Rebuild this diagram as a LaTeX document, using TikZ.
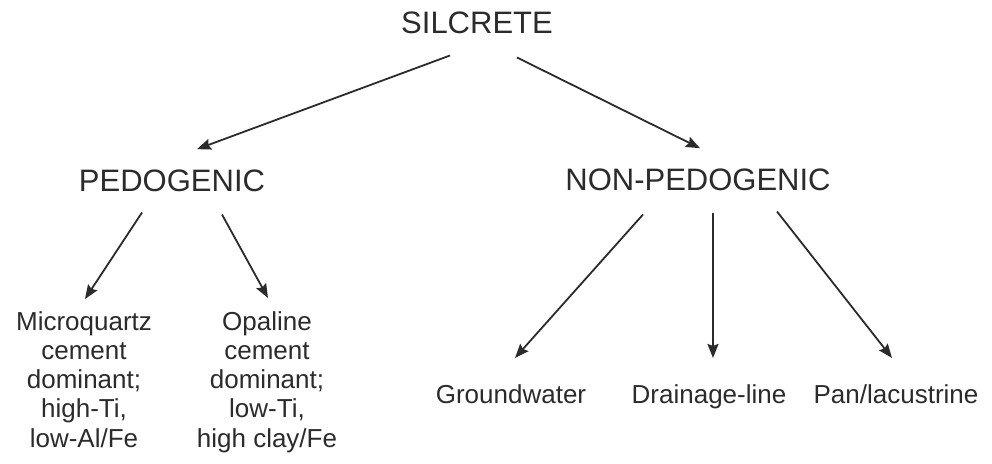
\documentclass[tikz,border=0pt]{standalone}
\usepackage{fontspec}
\setmainfont{Liberation Sans}
\usetikzlibrary{arrows.meta}
\definecolor{ink}{HTML}{2B2B2B}

\begin{document}
\begin{tikzpicture}[x=1pt,y=-1pt,
        head/.style={inner sep=0pt, anchor=base, text=ink, font=\fontsize{31}{36}\selectfont},
        leaf/.style={inner sep=0pt, text=ink, align=center, font=\fontsize{26}{29.3}\selectfont},
        arr/.style={draw=ink, line width=1.8pt, -{Stealth[length=14pt,width=11pt,inset=2pt]}}]
        \useasboundingbox (0,0) rectangle (992,463);
        % classes
        \node[head] (silcrete) at (477,33) {SILCRETE};
        \node[head] (pedo) at (172,191) {PEDOGENIC};
        \node[head] (nonpedo) at (698,190) {NON-PEDOGENIC};
        % pedogenic types
        \node[leaf, anchor=north] (micro) at (84,311) {Microquartz\\cement\\dominant;\\high-Ti,\\low-Al/Fe};
        \node[leaf, anchor=north] (opal) at (267,311) {Opaline\\cement\\dominant;\\low-Ti,\\high clay/Fe};
        % non-pedogenic types
        \node[leaf, anchor=base] (ground) at (511,403) {Groundwater};
        \node[leaf, anchor=base] (drain) at (709,403) {Drainage-line};
        \node[leaf, anchor=base] (lake) at (896,403) {Pan/lacustrine};
        % arrows
        \draw[arr] ([shift={(-27,22)}]silcrete.south) -- ([shift={(25,-20)}]pedo.north);
        \draw[arr] ([shift={(40,24)}]silcrete.south) -- ([shift={(2,-20)}]nonpedo.north);
        \draw[arr] ([shift={(-30,21)}]pedo.south) -- ([shift={(1,-12)}]micro.north);
        \draw[arr] ([shift={(50,23)}]pedo.south) -- ([shift={(1,-13)}]opal.north);
        \draw[arr] ([shift={(-55,24)}]nonpedo.south) -- ([shift={(4,-26)}]ground.north);
        \draw[arr] ([shift={(15,22)}]nonpedo.south) -- ([shift={(4,-26)}]drain.north);
        \draw[arr] ([shift={(79,21)}]nonpedo.south) -- ([shift={(-4,-26)}]lake.north);
\end{tikzpicture}
\end{document}
